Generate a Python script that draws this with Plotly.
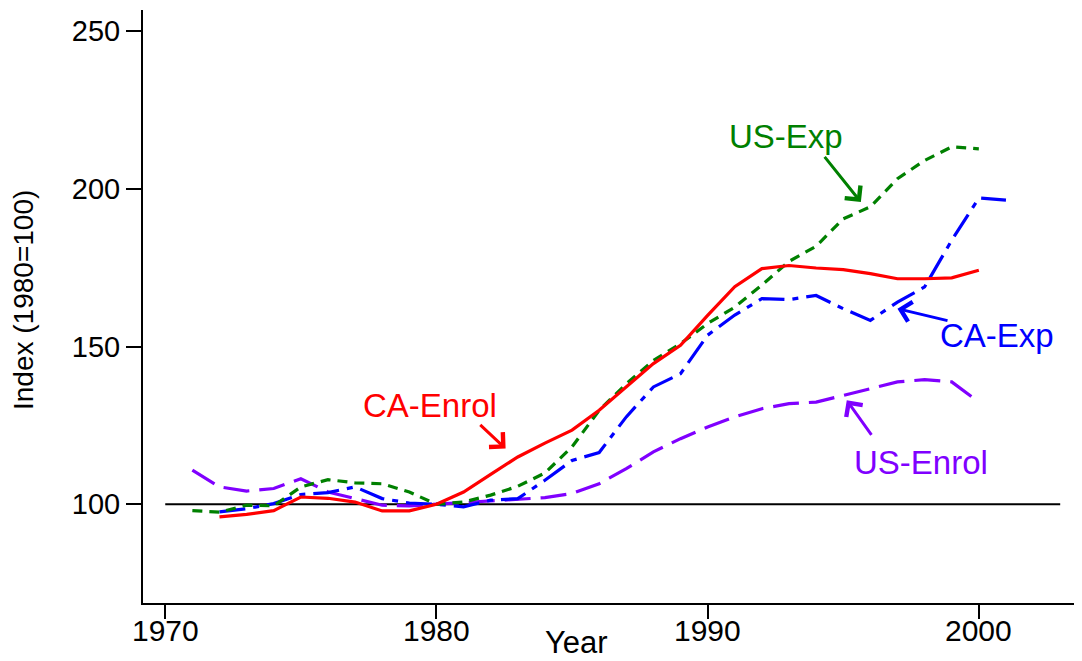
import plotly.graph_objects as go

# ---- data ----
years_ca_enrol = list(range(1972, 2001))
ca_enrol = [96.0, 96.8, 98.0, 102.3, 101.9, 100.7, 97.9, 97.9, 100.0, 103.9,
            109.5, 115.0, 119.4, 123.5, 129.8, 137.2, 144.6, 150.4, 159.9, 169.0,
            174.7, 175.7, 174.9, 174.4, 173.1, 171.5, 171.5, 171.8, 174.2]

years_us_exp = list(range(1971, 2001))
us_exp = [98.0, 97.5, 99.7, 99.5, 105.5, 107.8, 106.8, 106.5, 103.9, 100.0,
          100.7, 102.9, 105.7, 109.9, 118.2, 129.8, 138.2, 145.6, 150.9, 157.3,
          162.5, 169.5, 177.0, 181.8, 190.5, 194.3, 203.2, 209.0, 213.3, 212.7]

years_ca_exp = list(range(1972, 2002))
ca_exp = [97.6, 98.6, 100.2, 103.1, 103.7, 105.5, 101.8, 100.4, 100.0, 99.2,
          101.3, 101.8, 107.6, 113.9, 116.4, 127.7, 137.2, 141.4, 153.6, 160.0,
          165.2, 164.9, 166.2, 162.0, 158.3, 164.1, 168.9, 183.7, 197.1, 196.4]

years_us_enrol = list(range(1971, 2001))
us_enrol = [110.8, 105.5, 104.2, 105.0, 108.1, 103.9, 101.8, 99.7, 99.5, 100.0,
            100.4, 101.0, 101.5, 102.1, 103.4, 106.5, 111.3, 116.6, 120.8, 124.5,
            127.7, 130.3, 131.9, 132.4, 134.5, 136.6, 138.8, 139.5, 138.8, 132.4]

ref_years = [1970, 2003]
ref_values = [100, 100]

x_ticks = [1970, 1980, 1990, 2000]
y_ticks = [100, 150, 200, 250]

# labels: (text, text_x, text_y, tail_x, tail_y, tip_x, tip_y, colour)
labels = [
    ("CA-Enrol", 1979.78, 131.4, 1981.56, 125.6, 1982.55, 117.65, "#FF0000"),
    ("US-Enrol", 1997.86, 113.3, 1996.08, 121.55, 1995.13, 132.96, "#8000FF"),
    ("US-Exp", 1992.88, 216.6, 1994.27, 210.6, 1995.65, 195.8, "#008000"),
    ("CA-Exp", 2000.66, 153.6, 1998.9, 158.1, 1997.0, 162.0, "#0000FF"),
]

FONT = "Liberation Sans, Arial, Helvetica, sans-serif"

fig = go.Figure()

fig.add_trace(go.Scatter(x=ref_years, y=ref_values, mode="lines",
                         line=dict(color="black", width=2), showlegend=False))
fig.add_trace(go.Scatter(x=years_us_enrol, y=us_enrol, mode="lines",
                         line=dict(color="#8000FF", width=3.2, dash="26px,10px"),
                         showlegend=False))
fig.add_trace(go.Scatter(x=years_ca_exp, y=ca_exp, mode="lines",
                         line=dict(color="#0000FF", width=3.2, dash="26px,8px,6px,8px"),
                         showlegend=False))
fig.add_trace(go.Scatter(x=years_us_exp, y=us_exp, mode="lines",
                         line=dict(color="#008000", width=3.2, dash="10px,7px"),
                         showlegend=False))
fig.add_trace(go.Scatter(x=years_ca_enrol, y=ca_enrol, mode="lines",
                         line=dict(color="#FF0000", width=3.2),
                         showlegend=False))

annotations = []
for text, tx, ty, ax, ay, hx, hy, col in labels:
    annotations.append(dict(x=tx, y=ty, xref="x", yref="y", text=text,
                            showarrow=False, xanchor="center", yanchor="middle",
                            font=dict(family=FONT, size=33, color=col)))
    annotations.append(dict(x=hx, y=hy, xref="x", yref="y", ax=ax, ay=ay,
                            axref="x", ayref="y", text="", showarrow=True,
                            arrowhead=4, arrowsize=1.3, arrowwidth=3,
                            arrowcolor=col, standoff=0, startstandoff=0))

# x tick labels (placed close under the ticks, as in the reference)
for v in x_ticks:
    annotations.append(dict(x=v, y=0, xref="x", yref="paper", text=str(v),
                            showarrow=False, xanchor="center", yanchor="middle",
                            yshift=-27,
                            font=dict(family=FONT, size=30, color="black")))

annotations.append(dict(x=(576 - 143) / 937, y=0, xref="paper", yref="paper",
                        xanchor="center", yanchor="middle",
                        yshift=-39, text="Year", showarrow=False,
                        font=dict(family=FONT, size=31, color="black")))
annotations.append(dict(x=0, y=(603 - 300) / 593, xref="paper", yref="paper",
                        xanchor="center", yanchor="middle", xshift=-120,
                        text="Index (1980=100)", textangle=-90, showarrow=False,
                        font=dict(family=FONT, size=28, color="black")))

fig.update_layout(
    width=1074, height=653,
    margin=dict(l=135, r=2, t=2, b=58),
    paper_bgcolor="white", plot_bgcolor="white",
    font=dict(family=FONT, color="black"),
    annotations=annotations,
    xaxis=dict(range=[1969.18, 2003.73], tickvals=x_ticks,
               showticklabels=False,
               showgrid=False, zeroline=False, showline=True,
               linecolor="black", linewidth=2, ticks="outside",
               ticklen=14, tickwidth=2, tickcolor="black"),
    yaxis=dict(range=[68.7, 256.7], tickvals=y_ticks,
               ticktext=[str(v) for v in y_ticks],
               showgrid=False, zeroline=False, showline=True,
               linecolor="black", linewidth=2, ticks="outside",
               ticklen=15, tickwidth=2, tickcolor="black",
               tickfont=dict(family=FONT, size=29, color="black")),
)

fig.write_html("out.html")
